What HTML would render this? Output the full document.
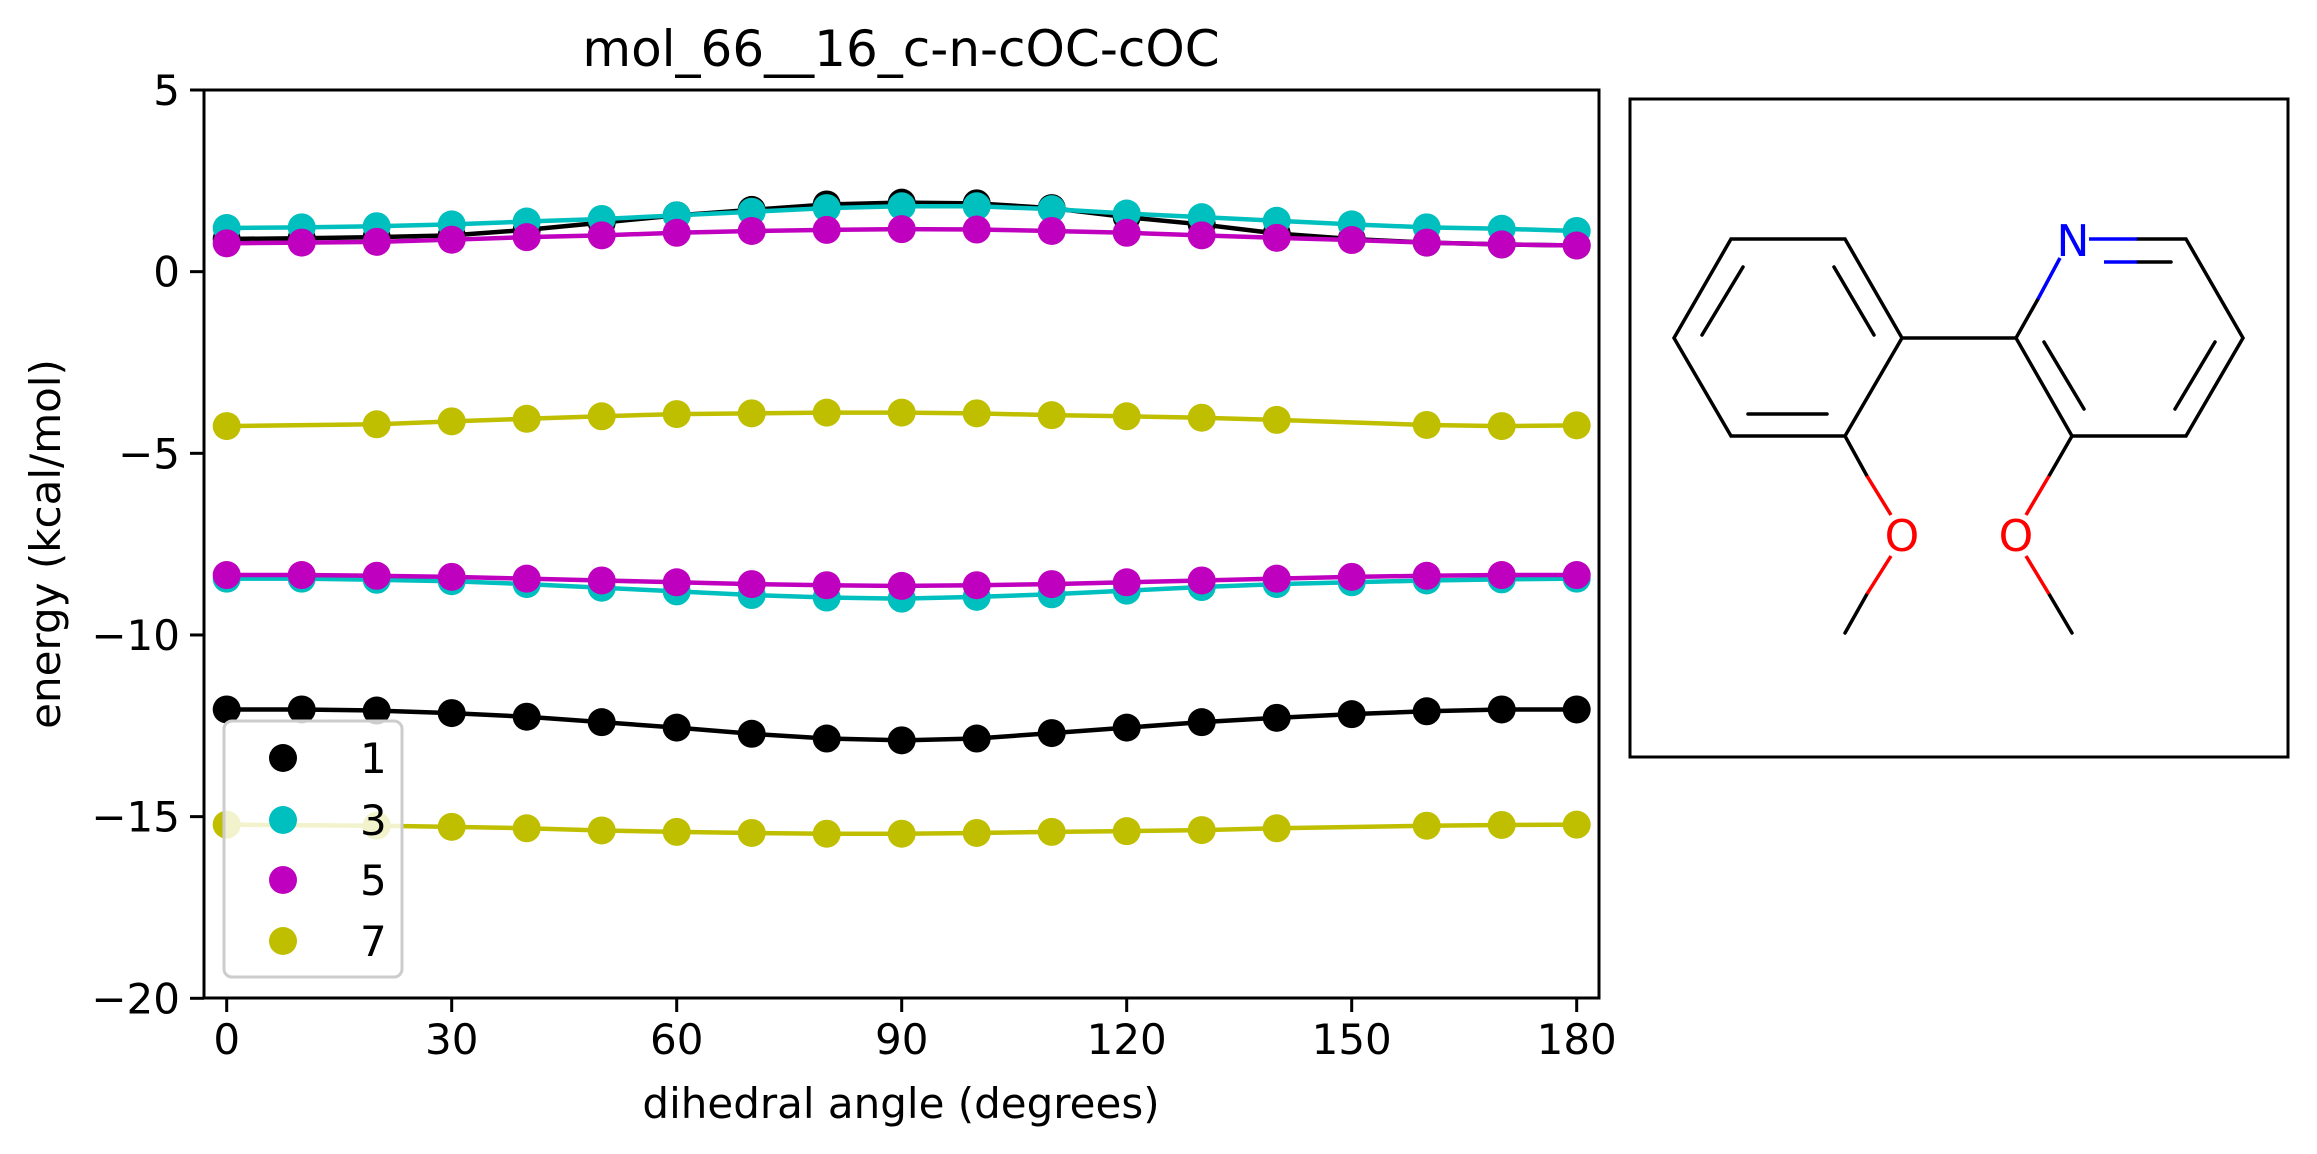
<!DOCTYPE html>
<html><head><meta charset="utf-8"><style>
html,body{margin:0;padding:0;background:#fff;}
svg{display:block;font-family:"DejaVu Sans","Liberation Sans",sans-serif;}
</style></head><body>
<svg id="chart" width="2317" height="1154" viewBox="0 0 2317 1154" xmlns="http://www.w3.org/2000/svg">
<text x="901" y="66" font-size="50" text-anchor="middle">mol_66__16_c-n-cOC-cOC</text>
<g id="plot"></g>
<rect x="204" y="90" width="1395" height="908" fill="none" stroke="#000" stroke-width="3"/>
<g id="ticks"></g>
<text x="901" y="1118" font-size="42" text-anchor="middle">dihedral angle (degrees)</text>
<text transform="translate(60,544) rotate(-90)" font-size="42" text-anchor="middle">energy (kcal/mol)</text>
<g>
<rect x="224" y="721" width="178" height="256" rx="8" fill="#fff" fill-opacity="0.8" stroke="#ccc" stroke-width="3"/>
<circle cx="283" cy="758" r="14" fill="#000"/>
<text x="360" y="773" font-size="42">1</text>
<circle cx="283" cy="820" r="14" fill="#00bfbf"/>
<text x="360" y="835" font-size="42">3</text>
<circle cx="283" cy="880" r="14" fill="#bf00bf"/>
<text x="360" y="895" font-size="42">5</text>
<circle cx="283" cy="941" r="14" fill="#bfbf00"/>
<text x="360" y="956" font-size="42">7</text>
</g>
<g>
<rect x="1630" y="99" width="658" height="658" fill="#fff" stroke="#000" stroke-width="3"/>
<g stroke="#000" stroke-width="3.5" fill="none" stroke-linecap="round">
<polyline points="1902,338 1845,239 1731,239 1674,338 1731,436 1845,436 1902,338 2016,338 2038,299"/>
<line x1="1743" y1="267" x2="1702" y2="335"/><line x1="1834" y1="267" x2="1874" y2="335"/><line x1="1748" y1="414" x2="1827" y2="414"/>
<polyline points="2137,239 2186,239 2243,338 2186,436 2072,436 2016,338"/>
<line x1="2044" y1="342" x2="2084" y2="409"/><line x1="2215" y1="342" x2="2175" y2="409"/><line x1="2137" y1="262" x2="2171" y2="262"/>
<line x1="1845" y1="436" x2="1867" y2="476"/><line x1="1867" y1="594" x2="1845" y2="633"/>
<line x1="2072" y1="436" x2="2049" y2="476"/><line x1="2049" y1="594" x2="2072" y2="633"/>
</g>
<g stroke="#0000ff" stroke-width="3.5"><line x1="2038" y1="299" x2="2060" y2="258"/><line x1="2089" y1="239" x2="2137" y2="239"/><line x1="2104" y1="262" x2="2137" y2="262"/></g>
<g stroke="#ff0000" stroke-width="3.5"><line x1="1867" y1="476" x2="1891" y2="515"/><line x1="1891" y1="556" x2="1867" y2="594"/><line x1="2049" y1="476" x2="2026" y2="515"/><line x1="2026" y1="556" x2="2049" y2="594"/></g>
<text x="2073" y="256" font-size="44" fill="#0000ff" text-anchor="middle">N</text>
<text x="1902" y="551" font-size="44" fill="#ff0000" text-anchor="middle">O</text>
<text x="2016" y="551" font-size="44" fill="#ff0000" text-anchor="middle">O</text>
</g>
</svg>
<script>
const angles = [0,10,20,30,40,50,60,70,80,90,100,110,120,130,140,150,160,170,180];
const seriesNames = ["1","3","5","7"];
const s1a = [0.9,0.92,0.95,1.0,1.15,1.35,1.55,1.7,1.85,1.9,1.88,1.75,1.5,1.3,1.05,0.9,0.8,0.75,0.72];
const s1b = [-12.05,-12.05,-12.08,-12.15,-12.25,-12.4,-12.55,-12.72,-12.85,-12.9,-12.85,-12.7,-12.55,-12.4,-12.28,-12.18,-12.1,-12.05,-12.05];
const s3a = [1.2,1.22,1.25,1.3,1.38,1.45,1.55,1.65,1.75,1.8,1.8,1.72,1.6,1.5,1.4,1.3,1.22,1.18,1.12];
const s3b = [-8.45,-8.45,-8.48,-8.52,-8.6,-8.7,-8.8,-8.9,-8.97,-9.0,-8.95,-8.88,-8.78,-8.68,-8.6,-8.55,-8.5,-8.47,-8.45];
const s5a = [0.78,0.8,0.82,0.88,0.95,1.0,1.07,1.12,1.15,1.17,1.16,1.12,1.07,1.0,0.93,0.87,0.8,0.75,0.72];
const s5b = [-8.35,-8.35,-8.37,-8.4,-8.45,-8.5,-8.55,-8.6,-8.63,-8.65,-8.63,-8.6,-8.55,-8.5,-8.45,-8.4,-8.37,-8.35,-8.35];
const s7a = [-4.25,null,-4.2,-4.12,-4.05,-3.98,-3.92,-3.9,-3.88,-3.88,-3.9,-3.95,-3.98,-4.02,-4.08,null,-4.22,-4.25,-4.23];
const s7b = [-15.22,null,-15.25,-15.28,-15.32,-15.38,-15.42,-15.45,-15.47,-15.47,-15.45,-15.42,-15.4,-15.37,-15.32,null,-15.25,-15.23,-15.22];
const xTicks = [0,30,60,90,120,150,180];
const yTicks = [5,0,-5,-10,-15,-20];
const yTickLabels = ["5","0","\u22125","\u221210","\u221215","\u221220"];

const NS = "http://www.w3.org/2000/svg";
function X(a){ return 226.7 + (a/180)*1350; }
function Y(v){ return 998.3 - (v+20)/25*908.3; }
const plot = document.getElementById('plot');
const ticks = document.getElementById('ticks');
function mk(tag, attrs, parent){ const e=document.createElementNS(NS,tag); for(const k in attrs) e.setAttribute(k,attrs[k]); parent.appendChild(e); return e; }

const groups = [
  {name:"1", color:"#000000", data:[s1a,s1b]},
  {name:"3", color:"#00bfbf", data:[s3a,s3b]},
  {name:"5", color:"#bf00bf", data:[s5a,s5b]},
  {name:"7", color:"#bfbf00", data:[s7a,s7b]}
];
groups.forEach(g=>{
  g.data.forEach((arr,bi)=>{
    const pts=[];
    arr.forEach((v,i)=>{
      if(v===null) return;
      const c = mk('circle',{cx:X(angles[i]),cy:Y(v),r:14,fill:g.color},plot);
      
      
      pts.push(X(angles[i])+','+Y(v));
    });
    const l = mk('polyline',{points:pts.join(' '),fill:'none',stroke:g.color,'stroke-width':4.5},plot);
    
    
  });
});
xTicks.forEach(t=>{
  const l = mk('line',{x1:X(t),x2:X(t),y1:998,y2:1012,stroke:'#000','stroke-width':3},ticks);
  
  
  const tx = mk('text',{x:X(t),y:1054,'font-size':42,'text-anchor':'middle'},ticks);
  tx.textContent = String(t);
  
  
});
yTicks.forEach((t,i)=>{
  const l = mk('line',{x1:190,x2:204,y1:Y(t),y2:Y(t),stroke:'#000','stroke-width':3},ticks);
  
  
  const tx = mk('text',{x:180,y:Y(t)+15,'font-size':42,'text-anchor':'end'},ticks);
  tx.textContent = yTickLabels[i];
  
  
});
</script>
</body></html>
